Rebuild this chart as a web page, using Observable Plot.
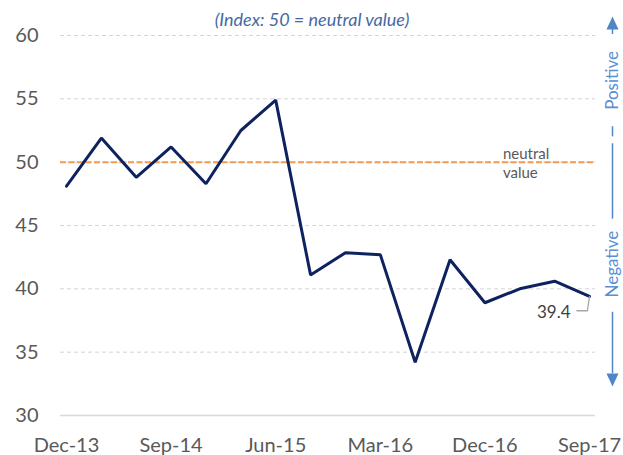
<!DOCTYPE html>
<html><head><meta charset="utf-8">
<script src="https://cdn.jsdelivr.net/npm/d3@7"></script>
<script src="https://cdn.jsdelivr.net/npm/@observablehq/plot@0.6"></script>
<style>
body{margin:0;background:#fff}
#chart{width:623px;height:455px;overflow:hidden}
</style>
</head><body><div id="chart"></div>
<script>
const quarters = ["Dec-13","Mar-14","Jun-14","Sep-14","Dec-14","Mar-15","Jun-15","Sep-15","Dec-15","Mar-16","Jun-16","Sep-16","Dec-16","Mar-17","Jun-17","Sep-17"];
const indexValues = [48.1,51.9,48.8,51.2,48.3,52.5,54.9,41.1,42.85,42.7,34.2,42.3,38.9,40.0,40.6,39.4];
const yTicks = [30,35,40,45,50,55,60];
const xTickLabels = ["Dec-13","Sep-14","Jun-15","Mar-16","Dec-16","Sep-17"];
const neutralValue = 50;
const titleText = "(Index: 50 = neutral value)";
const neutralLabel = "neutral\nvalue";
const sideLabels = ["Positive","Negative"];

const data = quarters.map((q,i)=>({i, q, v: indexValues[i]}));
const last = data[data.length-1];
const xTickIdx = xTickLabels.map(l=>quarters.indexOf(l));
const lastIdx = quarters.length-1;

// annotation leader (data units)
const leader = [
  {i:last.i, v:last.v},
  {i:last.i-0.06, v:last.v-1.13},
  {i:last.i-0.36, v:last.v-1.13}
];

// side direction arrow segments (data units on y)
const sideSegs = [{y1:60.55,y2:60.08},{y1:52.8,y2:52.0},{y1:51.45,y2:45.5},{y1:38.15,y2:33.3}];
const upHead = {draw(ctx){ctx.moveTo(0,-6.5);ctx.lineTo(6,6.5);ctx.lineTo(-6,6.5);ctx.closePath();}};
const downHead = {draw(ctx){ctx.moveTo(0,6.5);ctx.lineTo(6,-6.5);ctx.lineTo(-6,-6.5);ctx.closePath();}};
const sideColor = "#4f86c6";

const plot = Plot.plot({
  width: 623,
  height: 455,
  marginTop: 35,
  marginBottom: 40,
  marginLeft: 60,
  marginRight: 28,
  style: {fontFamily: "Lato, 'Open Sans', sans-serif", background: "white", overflow: "visible"},
  x: {type: "linear", domain: [0, lastIdx], insetLeft: 6, insetRight: 6},
  y: {domain: [30, 60]},
  marks: [
    Plot.gridY(yTicks.filter(d=>d>30), {stroke:"#d4d4d4", strokeOpacity:1, strokeDasharray:"4,3", strokeWidth:1}),
    Plot.ruleY([30], {stroke:"#d9d9d9", strokeWidth:1.5}),
    Plot.ruleY([neutralValue], {stroke:"#f39b52", strokeWidth:2, strokeDasharray:"6,2.5"}),
    Plot.line(data, {x:"i", y:"v", stroke:"#0d225f", strokeWidth:3, strokeLinejoin:"miter"}),
    Plot.axisY(yTicks, {label:null, tickSize:0, tickPadding:22, fontSize:20, color:"#595959"}),
    Plot.axisX(xTickIdx, {label:null, tickSize:0, tickPadding:22, fontSize:20, color:"#595959", tickFormat: i=>quarters[i]}),
    Plot.line(leader, {x:"i", y:"v", stroke:"#a6a6a6", strokeWidth:1.3, curve:"linear"}),
    Plot.text([last], {x:"i", y:"v", text: d=>d.v.toFixed(1), textAnchor:"end", dx:-19, dy:16, fontSize:17, fill:"#404040"}),
    Plot.text([titleText], {frameAnchor:"top", lineAnchor:"middle", dy:-15, dx:-16, fontStyle:"italic", fontSize:18, fill:"#4569a3"}),
    Plot.text([neutralLabel], {x: quarters.indexOf("Dec-16"), y: neutralValue, dx:18, textAnchor:"start", lineAnchor:"middle", lineHeight:1.25, fontSize:15, fill:"#595959"}),
    Plot.ruleX(sideSegs, {x: lastIdx, y1:"y1", y2:"y2", dx:23, stroke:sideColor, strokeWidth:1.5}),
    Plot.dot([60.99], {x: lastIdx, y: d=>d, dx:23, symbol: upHead, fill: sideColor, stroke: "none", r: 5}),
    Plot.dot([32.8], {x: lastIdx, y: d=>d, dx:23, symbol: downHead, fill: sideColor, stroke: "none", r: 5}),
    Plot.text([{t:sideLabels[0], y:56.45},{t:sideLabels[1], y:41.95}], {x: lastIdx, y:"y", text:"t", dx:23, rotate:-90, textAnchor:"middle", lineAnchor:"middle", fontSize:17, fill:"#5b8fd5"})
  ]
});
document.getElementById("chart").appendChild(plot);
</script>
</body></html>
